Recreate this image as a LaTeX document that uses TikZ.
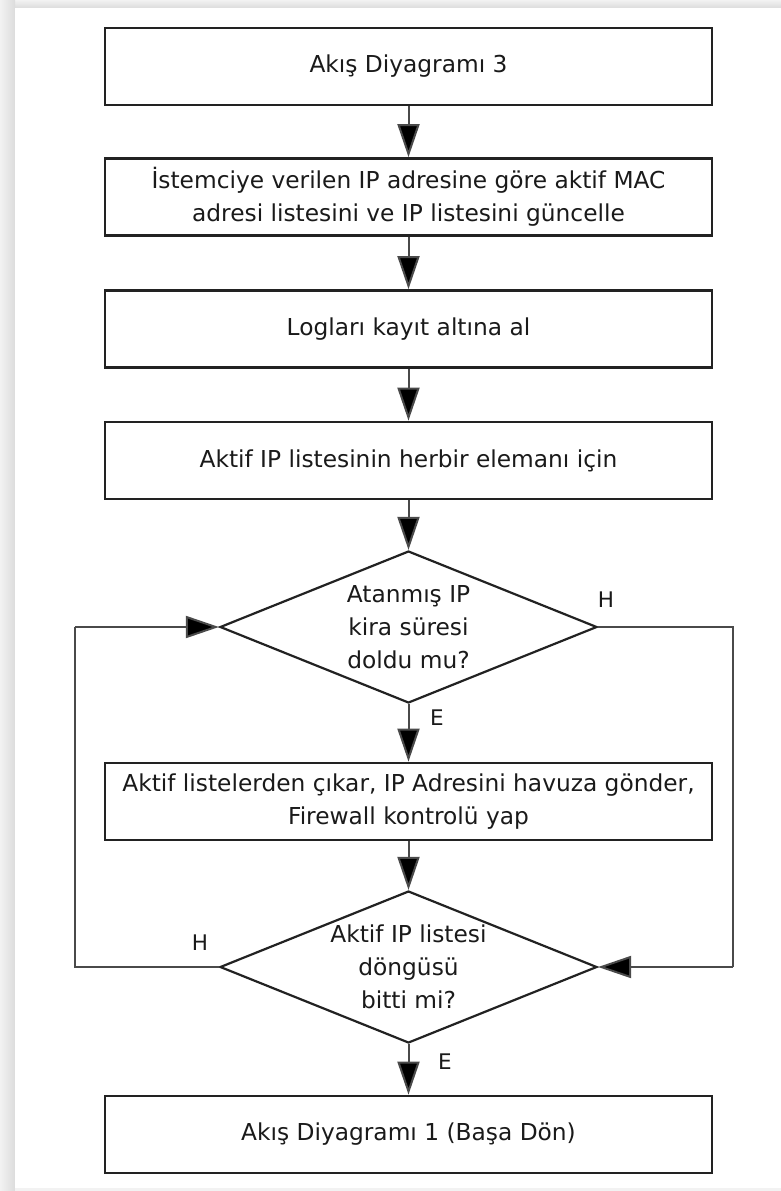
\documentclass[tikz,border=0pt]{standalone}
\usepackage{fontspec}
\setmainfont{DejaVu Sans}
\usetikzlibrary{arrows.meta,shapes.geometric}
\definecolor{edge}{HTML}{222222}
\definecolor{wire}{HTML}{4A4A4A}
\definecolor{ink}{HTML}{1A1A1A}
\definecolor{shadowlight}{HTML}{F2F2F2}
\definecolor{shadowdark}{HTML}{DCDCDC}
\begin{document}
\begin{tikzpicture}[x=1pt,y=-1pt,
  procbox/.style={draw=edge,line width=2.8pt,minimum width=607pt,minimum height=77pt,
    inner sep=0pt,align=center,text=ink,font=\fontsize{23.3}{32.5}\selectfont},
  decision/.style={draw=edge,line width=2.2pt,diamond,minimum width=377pt,minimum height=152pt,
    inner sep=0pt,aspect=2.48,align=center,text=ink,font=\fontsize{23.3}{33}\selectfont},
  flow/.style={draw=wire,line width=2pt,-{Triangle[length=33pt,width=22pt,fill=black]}},
  wireline/.style={draw=wire,line width=2pt},
  tag/.style={text=ink,font=\fontsize{21.5}{24}\selectfont,inner sep=0pt}]
% page with its soft shadow
\fill[white] (0,0) rectangle (781,1191);
\shade[top color=shadowlight,bottom color=shadowdark] (0,0) rectangle (781,8);
\shade[left color=shadowlight,right color=shadowdark] (0,0) rectangle (15,1191);
\fill[white] (15,8) rectangle (781,1188);
\fill[shadowlight] (15,1188) rectangle (781,1191);
\useasboundingbox (0,0) rectangle (781,1191);

% steps
\node[procbox] (b1) at (408.5,66.5) {Akış Diyagramı 3};
\node[procbox] (b2) at (408.5,197) {İstemciye verilen IP adresine göre aktif MAC\\adresi listesini ve IP listesini güncelle};
\node[procbox] (b3) at (408.5,329) {Logları kayıt altına al};
\node[procbox] (b4) at (408.5,460.5) {Aktif IP listesinin herbir elemanı için};
\node[decision] (d1) at (408.5,627) {Atanmış IP\\kira süresi\\doldu mu?};
\node[procbox] (b5) at (408.5,801.5) {Aktif listelerden çıkar, IP Adresini havuza gönder,\\Firewall kontrolü yap};
\node[decision] (d2) at (408.5,967) {Aktif IP listesi\\döngüsü\\bitti mi?};
\node[procbox] (b6) at (408.5,1134.5) {Akış Diyagramı 1 (Başa Dön)};

% loop corners
\coordinate (lc1) at (75,967);
\coordinate (lc2) at (75,627);
\coordinate (rc1) at (733,627);
\coordinate (rc2) at (733,967);

% straight flow
\draw[flow] (b1.south) -- (b2.north);
\draw[flow] (b2.south) -- (b3.north);
\draw[flow] (b3.south) -- (b4.north);
\draw[flow] (b4.south) -- (d1.north);
\draw[flow] (d1.south) -- (b5.north);
\draw[flow] (b5.south) -- (d2.north);
\draw[flow] (d2.south) -- (b6.north);

% loops
\draw[wireline] (d2.west) -- (lc1) -- (lc2);
\draw[flow] (lc2) -- (d1.west);
\draw[wireline] (d1.east) -- (rc1) -- (rc2);
\draw[flow] (rc2) -- (d2.east);

% branch labels
\node[tag] (h1) at (606,600) {H};
\node[tag] (e1) at (437,718) {E};
\node[tag] (h2) at (200,943) {H};
\node[tag] (e2) at (445,1062) {E};
\end{tikzpicture}
\end{document}
